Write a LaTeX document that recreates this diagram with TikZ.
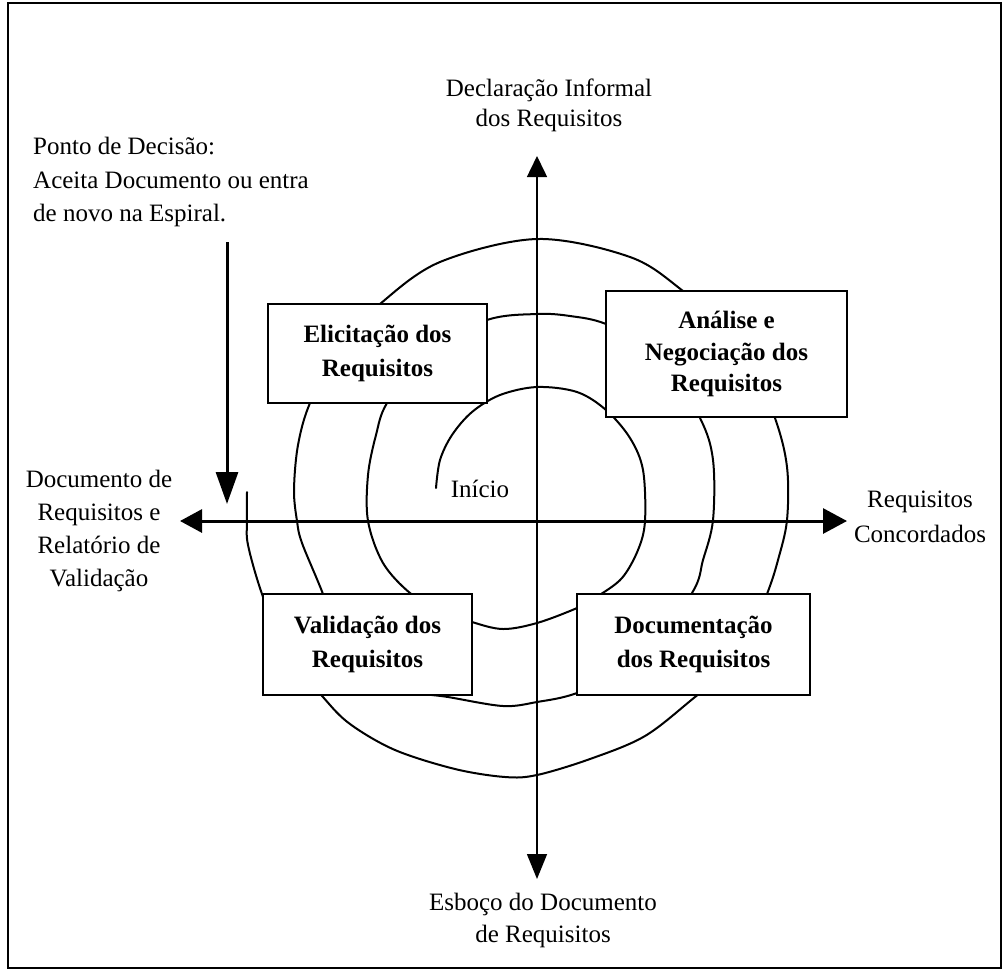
\documentclass[tikz,border=0pt]{standalone}
\usepackage{fontspec}
\setmainfont{Liberation Serif}
\usetikzlibrary{arrows.meta}
\begin{document}
\begin{tikzpicture}[x=1pt,y=-1pt,
  lbl/.style={inner sep=0pt, align=center},
  boxnode/.style={draw, line width=1.5pt, fill=white, inner sep=0pt, align=center,
    font=\bfseries\fontsize{25}{34}\selectfont},
  spiralline/.style={line width=2pt, line join=round, line cap=round},
]
\useasboundingbox (0,0) rectangle (1008,972);
\draw[line width=1.5pt] (8,3) rectangle (1001,968);

% spiral
\draw[spiralline] plot[smooth, tension=0.55] coordinates {
 (436,488) (440,460) (452,435) (472,412) (500,395) (537,387) (577,392) (606,410)
 (630,438) (643,470) (645,521) (638,550) (622,578) (598,596) (577,608) (537,623)
 (503,629) (472,622) (440,610) (410,593) (383,563) (368,521) (368,475) (376,435)
 (387,403) (425,352) (487,320) (537,314) (570,316) (606,324) (660,352) (700,418)
 (713,460) (713,520) (703,560) (692,593) (640,665) (577,693) (537,702) (503,706)
 (448,697) (395,688) (345,655) (323,594) (302,543) (297,521) (294,490) (298,445)
 (310,403) (340,345) (380,304) (440,262) (537,239) (630,257) (683,291)
 (745,345) (775,418) (787,467) (787,520) (778,560) (767,594)
 (740,660) (695,697) (645,736) (590,759) (537,775) (505,777)
 (455,769) (395,750) (350,724) (323,697) (285,650) (262,594) (248,545)
 (247,521) (247,492)};

% boxes
\node[boxnode, minimum width=219pt, minimum height=99pt] (elic) at (377.5,353.5) {Elicitação dos\\Requisitos};
\node[boxnode, minimum width=241pt, minimum height=126pt,
  font=\bfseries\fontsize{25}{31.5}\selectfont] (anal) at (726.5,354) {Análise e\\Negociação dos\\Requisitos};
\node[boxnode, minimum width=209pt, minimum height=101pt] (valid) at (367.5,644.5) {Validação dos\\Requisitos};
\node[boxnode, minimum width=233pt, minimum height=101pt] (docum) at (693.5,644.5) {Documentação\\dos Requisitos};

% axes
\coordinate (axL) at (180,521);
\coordinate (axR) at (847,521);
\coordinate (axT) at (537,156);
\coordinate (axB) at (537,879);
\coordinate (dpA) at (227,242);
\coordinate (dpB) at (227,504);
\draw[line width=3pt, {Triangle[length=22pt,width=23pt]}-{Triangle[length=24pt,width=25pt]}] (axL) -- (axR);
\draw[line width=1.5pt, {Triangle[length=21pt,width=20pt]}-{Triangle[length=25pt,width=20pt]}] (axT) -- (axB);
\draw[line width=3pt, -{Triangle[length=32pt,width=22pt]}] (dpA) -- (dpB);

% labels
\node[lbl, align=left, anchor=west, font=\fontsize{25}{33.5}\selectfont] (ponto) at (33,182)
  {Ponto de Decisão:\\Aceita Documento ou entra\\de novo na Espiral.};
\node[lbl, font=\fontsize{25}{30}\selectfont] (decl) at (549,105.5) {Declaração Informal\\dos Requisitos};
\node[lbl, font=\fontsize{25}{33}\selectfont] (docval) at (99,531) {Documento de\\Requisitos e\\Relatório de\\Validação};
\node[lbl, font=\fontsize{25}{35}\selectfont] (concord) at (920,517) {Requisitos\\Concordados};
\node[lbl, font=\fontsize{25}{32}\selectfont] (esboco) at (543,920.5) {Esboço do Documento\\de Requisitos};
\node[lbl, anchor=base, font=\fontsize{25}{30}\selectfont] (inicio) at (480,497) {Início};
\end{tikzpicture}
\end{document}
